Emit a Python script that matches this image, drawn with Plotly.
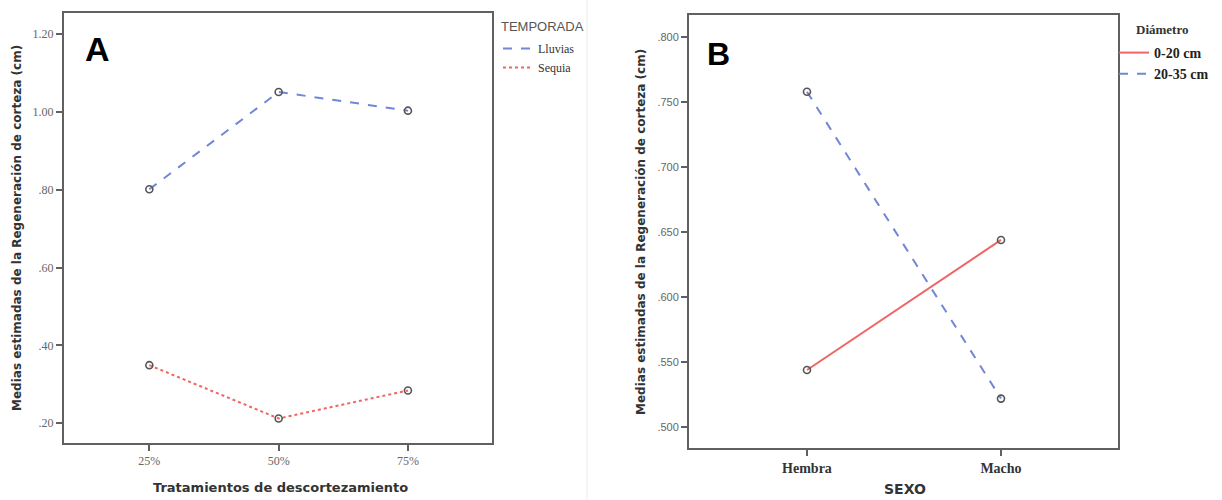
import plotly.graph_objects as go

# ---- data ----
tratamientos = ["25%", "50%", "75%"]
lluvias = [0.801, 1.051, 1.003]
sequia = [0.349, 0.212, 0.284]

sexo = ["Hembra", "Macho"]
diam_0_20 = [0.544, 0.644]
diam_20_35 = [0.758, 0.522]

ticks_a = [0.20, 0.40, 0.60, 0.80, 1.00, 1.20]
ticktext_a = [".20", ".40", ".60", ".80", "1.00", "1.20"]
ticks_b = [0.500, 0.550, 0.600, 0.650, 0.700, 0.750, 0.800]
ticktext_b = [".500", ".550", ".600", ".650", ".700", ".750", ".800"]

BLUE = "#7186d4"
RED = "#f06464"
MARK = "#555555"
W, H = 1222, 500

def px(x):
    return x / W

def py(y):
    return 1 - y / H

fig = go.Figure()

# Panel A
fig.add_trace(go.Scatter(x=tratamientos, y=lluvias, mode="lines", name="Lluvias",
                         line=dict(color=BLUE, width=2, dash="dash"),
                         xaxis="x", yaxis="y", legend="legend"))
fig.add_trace(go.Scatter(x=tratamientos, y=sequia, mode="lines", name="Sequia",
                         line=dict(color=RED, width=2, dash="dot"),
                         xaxis="x", yaxis="y", legend="legend"))
for ys in (lluvias, sequia):
    fig.add_trace(go.Scatter(x=tratamientos, y=ys, mode="markers", showlegend=False,
                             marker=dict(symbol="circle-open", size=7, color=MARK,
                                         line=dict(width=1.6, color=MARK)),
                             xaxis="x", yaxis="y"))

# Panel B
fig.add_trace(go.Scatter(x=sexo, y=diam_0_20, mode="lines", name="0-20 cm",
                         line=dict(color=RED, width=2),
                         xaxis="x2", yaxis="y2", legend="legend2"))
fig.add_trace(go.Scatter(x=sexo, y=diam_20_35, mode="lines", name="20-35 cm",
                         line=dict(color=BLUE, width=2, dash="dash"),
                         xaxis="x2", yaxis="y2", legend="legend2"))
for ys in (diam_0_20, diam_20_35):
    fig.add_trace(go.Scatter(x=sexo, y=ys, mode="markers", showlegend=False,
                             marker=dict(symbol="circle-open", size=7, color=MARK,
                                         line=dict(width=1.6, color=MARK)),
                             xaxis="x2", yaxis="y2"))

axis_common = dict(showline=True, mirror=True, linecolor="#606060", linewidth=2,
                   ticks="outside", ticklen=6, tickcolor="#606060", tickwidth=1.5,
                   showgrid=False, zeroline=False)

fig.update_layout(
    width=W, height=H,
    margin=dict(l=0, r=0, t=0, b=0),
    paper_bgcolor="white", plot_bgcolor="white",
    xaxis=dict(domain=[px(64), px(492)], anchor="y", type="category",
               range=[-0.66, 2.65],
               tickfont=dict(family="Liberation Serif", size=12, color="#666666"),
               **axis_common),
    yaxis=dict(domain=[py(443), py(13)], anchor="x", range=[0.149, 1.254],
               tickvals=ticks_a, ticktext=ticktext_a,
               tickfont=dict(family="Liberation Serif", size=12, color="#666666"),
               **axis_common),
    xaxis2=dict(domain=[px(689), px(1118)], anchor="y2", type="category",
                range=[-0.608, 1.603],
                tickfont=dict(family="Liberation Serif", size=14, color="#333333", weight="bold"),
                **axis_common),
    yaxis2=dict(domain=[py(448), py(15)], anchor="x2", range=[0.484, 0.817],
                tickvals=ticks_b, ticktext=ticktext_b,
                tickfont=dict(family="Liberation Sans", size=11, color="#666666"),
                **axis_common),
    legend=dict(x=px(498), y=py(34), xanchor="left", yanchor="top",
                font=dict(family="Liberation Serif", size=12, color="#333333"),
                bgcolor="rgba(0,0,0,0)", tracegroupgap=0, itemwidth=30),
    legend2=dict(x=px(1114), y=py(37), xanchor="left", yanchor="top",
                 font=dict(family="Liberation Serif", size=14, color="#222222", weight="bold"),
                 bgcolor="rgba(0,0,0,0)", tracegroupgap=0, itemwidth=30),
    showlegend=True,
)

annotations = [
    # legend titles
    dict(text="TEMPORADA", x=px(499), y=py(26), xanchor="left", yanchor="middle",
         font=dict(family="Liberation Sans", size=13, color="#555555")),
    dict(text="Diámetro", x=px(1134), y=py(29), xanchor="left", yanchor="middle",
         font=dict(family="Liberation Serif", size=13, color="#333333", weight="bold")),
    # panel labels
    dict(text="A", x=px(97), y=py(49), xanchor="center", yanchor="middle",
         font=dict(family="Liberation Sans", size=34, color="#000000", weight="bold")),
    dict(text="B", x=px(719), y=py(54), xanchor="center", yanchor="middle",
         font=dict(family="Liberation Sans", size=32, color="#000000", weight="bold")),
    # axis titles
    dict(text="Medias estimadas de la Regeneración de corteza (cm)", x=px(17), y=py(228),
         textangle=-90, xanchor="center", yanchor="middle",
         font=dict(family="DejaVu Sans", size=12, color="#333333", weight="bold")),
    dict(text="Medias estimadas de la Regeneración de corteza (cm)", x=px(641), y=py(232),
         textangle=-90, xanchor="center", yanchor="middle",
         font=dict(family="DejaVu Sans", size=12, color="#333333", weight="bold")),
    dict(text="Tratamientos de descortezamiento", x=px(280), y=py(487),
         xanchor="center", yanchor="middle",
         font=dict(family="DejaVu Sans", size=13, color="#333333", weight="bold")),
    dict(text="SEXO", x=px(905), y=py(489), xanchor="center", yanchor="middle",
         font=dict(family="DejaVu Sans", size=14, color="#333333", weight="bold")),
]
for a in annotations:
    a.update(xref="paper", yref="paper", showarrow=False)
fig.update_layout(annotations=annotations)

# faint divider between the two panels
fig.add_shape(type="line", xref="paper", yref="paper", x0=px(587), x1=px(587), y0=0, y1=1,
              line=dict(color="#ececec", width=1))

fig.write_html("out.html")
